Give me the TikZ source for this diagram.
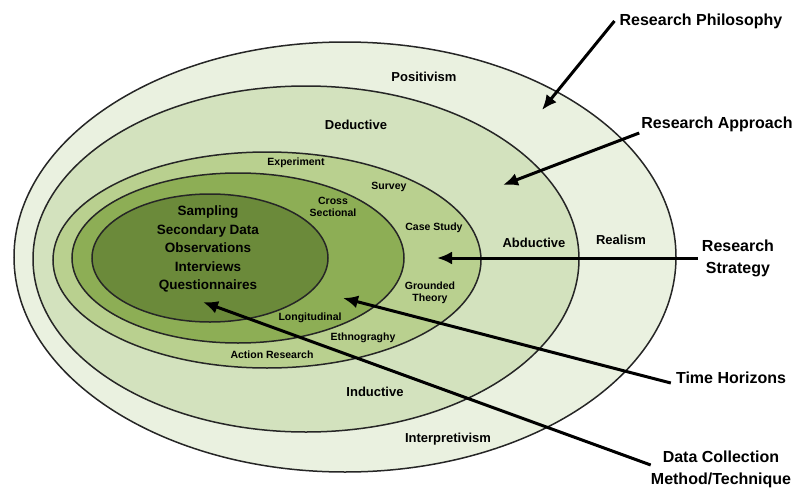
\documentclass[tikz,border=0pt]{standalone}
\usepackage{fontspec}
\setmainfont{Liberation Sans}
\usepackage{tikz}
\usetikzlibrary{arrows.meta}

\definecolor{layerA}{HTML}{EAF1E0}
\definecolor{layerB}{HTML}{D3E2BE}
\definecolor{layerC}{HTML}{B9D08F}
\definecolor{layerD}{HTML}{8DAE55}
\definecolor{layerE}{HTML}{6B8A3A}

\begin{document}
\begin{tikzpicture}[x=1pt, y=-1pt,
        ring/.style={draw=black!85, line width=1.5pt},
        small/.style={font=\bfseries\fontsize{10.5}{12}\selectfont, align=center, inner sep=0pt},
        mid/.style={font=\bfseries\fontsize{13}{15}\selectfont, align=center, inner sep=0pt},
        core/.style={font=\bfseries\fontsize{13.5}{18.5}\selectfont, align=center, inner sep=0pt},
        side/.style={font=\bfseries\fontsize{16}{22}\selectfont, align=center, inner sep=0pt},
        pointer/.style={-{Latex[length=15pt,width=13pt]}, line width=3pt}]
        \useasboundingbox (0,0) rectangle (796,490);

        % the onion, outside in
        \draw[ring, fill=layerA] (345,257) ellipse (331 and 215);
        \draw[ring, fill=layerB] (306,259) ellipse (273 and 173);
        \draw[ring, fill=layerC] (267,260) ellipse (214 and 108);
        \draw[ring, fill=layerD] (238,258) ellipse (166 and 85);
        \draw[ring, fill=layerE] (210,258) ellipse (118 and 64);

        % philosophy and approach
        \node[mid] (pos) at (424,77) {Positivism};
        \node[mid] (real) at (621,240) {Realism};
        \node[mid] (interp) at (448,439) {Interpretivism};
        \node[mid] (ded) at (356,125) {Deductive};
        \node[mid] (abd) at (534,243) {Abductive};
        \node[mid] (ind) at (375,392) {Inductive};

        % strategies and time horizons
        \node[small] (exp) at (296,163) {Experiment};
        \node[small] (surv) at (389,187) {Survey};
        \node[small] (case) at (434,228) {Case Study};
        \node[small] (grnd) at (430,293) {Grounded\\Theory};
        \node[small] (ethno) at (363,338) {Ethnograghy};
        \node[small] (action) at (272,355) {Action Research};
        \node[small] (cross) at (333,207) {Cross\\Sectional};
        \node[small] (longi) at (310,318) {Longitudinal};

        % data collection
        \node[core] (methods) at (208,249) {Sampling\\Secondary Data\\Observations\\Interviews\\Questionnaires};

        % layer names
        \node[side] (phil) at (701,21) {Research Philosophy};
        \node[side] (appr) at (717,124) {Research Approach};
        \node[side] (strat) at (738,258) {Research\\Strategy};
        \node[side] (time) at (731,378) {Time Horizons};
        \node[side] (data) at (721,469) {Data Collection\\Method/Technique};

        \coordinate (philtip) at (542,110);
        \coordinate (apprtip) at (503,185);
        \coordinate (strattip) at (437,258);
        \coordinate (timetip) at (343,298);
        \coordinate (datatip) at (203,302);

        \draw[pointer] ([xshift=-5pt]phil.west) -- (philtip);
        \draw[pointer] ([xshift=-2pt,yshift=-9pt]appr.west) -- (apprtip);
        \draw[pointer] ([xshift=-4pt]strat.west) -- (strattip);
        \draw[pointer] ([xshift=-5pt,yshift=-5pt]time.west) -- (timetip);
        \draw[pointer] ([yshift=4pt]data.west) -- (datatip);
\end{tikzpicture}
\end{document}
